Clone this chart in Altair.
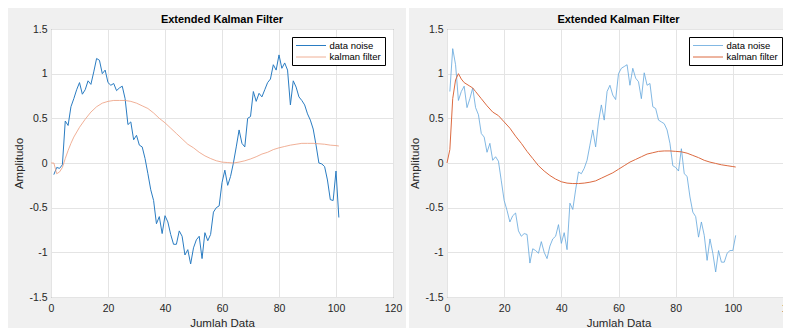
import altair as alt
import pandas as pd

# ---------------- data ----------------
x_ticks = [0, 20, 40, 60, 80, 100, 120]
y_ticks = [-1.5, -1, -0.5, 0, 0.5, 1, 1.5]
series_names = ["data noise", "kalman filter"]
panel_title = "Extended Kalman Filter"
x_title = "Jumlah Data"
y_title = "Amplitudo"

# left panel, noisy samples at x = 1..101
left_noise = [
    -0.13, -0.05, -0.06, -0.02, 0.47, 0.42, 0.63, 0.72, 0.82, 0.90,
    0.77, 0.82, 0.92, 0.88, 1.02, 1.17, 1.15, 1.00, 1.04, 0.90,
    0.87, 0.89, 0.81, 0.84, 0.86, 0.72, 0.43, 0.46, 0.26, 0.31,
    0.20, 0.18, 0.05, -0.12, -0.30, -0.42, -0.68, -0.60, -0.79, -0.59,
    -0.66, -0.80, -0.91, -0.91, -0.76, -0.82, -1.03, -0.97, -1.13, -0.95,
    -0.86, -0.82, -1.07, -0.78, -0.87, -0.80, -0.55, -0.50, -0.48, -0.22,
    -0.08, -0.25, -0.15, 0.00, 0.18, 0.37, 0.22, 0.18, 0.50, 0.52,
    0.80, 0.69, 0.78, 0.74, 0.82, 0.90, 0.94, 1.10, 1.04, 1.21,
    1.06, 1.12, 1.04, 0.65, 0.92, 0.85, 0.74, 0.70, 0.65, 0.55,
    0.48, 0.38, 0.20, 0.00, -0.01, -0.04, -0.19, -0.41, -0.42, -0.09,
    -0.61,
]
left_kalman_x = [0, 1, 2, 3, 4, 5, 6, 7, 8, 10, 12, 14, 16, 18, 20, 22, 24, 26,
                 28, 30, 32, 34, 36, 38, 40, 42, 44, 46, 48, 50, 52, 54, 56, 58,
                 60, 62, 64, 66, 68, 70, 72, 74, 76, 78, 80, 82, 84, 86, 88, 90,
                 92, 94, 96, 98, 100, 101]
left_kalman = [0.0, 0.0, -0.12, -0.10, -0.05, 0.05, 0.14, 0.22, 0.29, 0.40,
               0.49, 0.57, 0.63, 0.67, 0.69, 0.70, 0.70, 0.70, 0.69, 0.67,
               0.64, 0.61, 0.56, 0.50, 0.45, 0.39, 0.33, 0.27, 0.21, 0.17,
               0.12, 0.08, 0.05, 0.025, 0.01, 0.005, 0.0, 0.01, 0.025, 0.045,
               0.07, 0.10, 0.12, 0.15, 0.17, 0.185, 0.20, 0.21, 0.22, 0.22,
               0.22, 0.215, 0.21, 0.20, 0.195, 0.19]

# right panel, noisy samples at x = 1..101
right_noise = [
    0.80, 1.28, 1.10, 0.70, 0.80, 0.86, 0.62, 0.72, 0.84, 0.62,
    0.54, 0.33, 0.29, 0.12, 0.22, 0.03, 0.07, 0.02, -0.20, -0.42,
    -0.53, -0.66, -0.59, -0.56, -0.76, -0.82, -0.79, -0.80, -1.12, -0.96,
    -0.98, -1.01, -0.88, -1.00, -1.07, -0.93, -0.85, -0.82, -0.69, -0.90,
    -0.78, -0.97, -0.45, -0.52, -0.30, -0.10, -0.12, -0.06, 0.03, 0.20,
    0.37, 0.18, 0.46, 0.65, 0.48, 0.80, 0.87, 0.76, 0.71, 1.00,
    1.06, 1.08, 1.10, 0.87, 1.06, 0.95, 0.91, 0.72, 1.01, 0.87,
    0.89, 0.63, 0.61, 0.48, 0.46, 0.44, 0.37, 0.22, -0.03, -0.05,
    -0.09, 0.16, -0.12, -0.15, -0.38, -0.55, -0.60, -0.83, -0.66, -0.81,
    -1.09, -0.85, -1.01, -1.22, -0.98, -1.11, -1.11, -1.01, -0.98, -0.98,
    -0.81,
]
right_kalman_x = [0, 1, 2, 3, 4, 5, 6, 7, 8, 9, 10, 12, 14, 16, 18, 20, 22, 24,
                  26, 28, 30, 32, 34, 36, 38, 40, 42, 44, 46, 48, 50, 52, 54, 56,
                  58, 60, 62, 64, 66, 68, 70, 72, 74, 76, 78, 80, 82, 84, 86, 88,
                  90, 92, 94, 96, 98, 100, 101]
right_kalman = [0.0, 0.15, 0.72, 0.93, 1.00, 0.94, 0.90, 0.88, 0.86, 0.84,
                0.80, 0.72, 0.64, 0.57, 0.53, 0.46, 0.39, 0.30, 0.22, 0.13,
                0.05, -0.03, -0.09, -0.14, -0.18, -0.21, -0.225, -0.23, -0.23, -0.225,
                -0.215, -0.20, -0.17, -0.14, -0.11, -0.07, -0.03, 0.01, 0.04, 0.07,
                0.10, 0.115, 0.13, 0.135, 0.135, 0.13, 0.125, 0.11, 0.085, 0.06,
                0.03, 0.01, -0.005, -0.02, -0.03, -0.04, -0.045]

FONT = "Liberation Sans"
TXT = "#262626"


def frame(noise, kx, kv):
    a = pd.DataFrame({"x": list(range(1, len(noise) + 1)), "y": noise,
                      "series": series_names[0]})
    b = pd.DataFrame({"x": kx, "y": kv, "series": series_names[1]})
    return pd.concat([a, b], ignore_index=True)


def panel(df, colors, widths, w):
    xenc = alt.X("x:Q", scale=alt.Scale(domain=[0, 120], nice=False, zero=False),
                 axis=alt.Axis(values=x_ticks, title=x_title, titleFont=FONT,
                               titleFontSize=11.5, titleFontWeight="normal",
                               titleColor=TXT, titlePadding=4, labelFont=FONT,
                               labelFontSize=10.5, labelColor=TXT, labelPadding=6,
                               tickSize=0, domain=False, grid=True,
                               gridColor="#e4e4e4", labelFlush=False,
                               labelExpr="'' + datum.value"))
    yenc = alt.Y("y:Q", scale=alt.Scale(domain=[-1.5, 1.5], nice=False, zero=False),
                 axis=alt.Axis(values=y_ticks, title=y_title, titleFont=FONT,
                               titleFontSize=11.5, titleFontWeight="normal",
                               titleColor=TXT, titlePadding=4, labelFont=FONT,
                               labelFontSize=10.5, labelColor=TXT, labelPadding=4,
                               tickSize=0, domain=False, grid=True,
                               gridColor="#e4e4e4",
                               labelExpr="'' + datum.value"))
    line = alt.Chart(df).mark_line().encode(
        x=xenc, y=yenc,
        color=alt.Color("series:N",
                        scale=alt.Scale(domain=series_names, range=colors),
                        legend=alt.Legend(title=None, orient="top-right", offset=8,
                                          strokeColor="#000", fillColor="white",
                                          padding=3.5, symbolType="M-1,0L5.667,0",
                                          symbolSize=81, symbolStrokeWidth=1.2,
                                          labelFont=FONT, labelFontSize=9.5,
                                          labelColor="#000", rowPadding=1.5,
                                          labelOffset=24, cornerRadius=0)),
        strokeWidth=alt.StrokeWidth("series:N",
                                    scale=alt.Scale(domain=series_names, range=widths),
                                    legend=None),
    )
    return line.properties(
        width=w, height=268,
        title=alt.Title(panel_title, font=FONT, fontSize=11, fontWeight="bold",
                        color="#000", offset=4, dy=5, anchor="middle", frame="group"))


left = panel(frame(left_noise, left_kalman_x, left_kalman),
             ["#2a7cc2", "#ec9c7c"], [1.0, 0.8], 342)
right = panel(frame(right_noise, right_kalman_x, right_kalman),
              ["#62a6dc", "#dc6a40"], [0.8, 1.0], 343)

# thin white gap between the two figure windows
separator = alt.Chart(pd.DataFrame({"gap": [0]})).mark_rule(
    color="white", strokeWidth=3
).encode(x=alt.value(1.5), y=alt.value(-21), y2=alt.value(299)).properties(
    width=28, height=268,
    view=alt.ViewBackground(fill="transparent", stroke="transparent"))

chart = alt.hconcat(left, separator, right, spacing=13, bounds="flush").resolve_scale(
    color="independent", strokeWidth="independent"
).properties(
    autosize=alt.AutoSizeParams(type="none"),
    padding={"left": 43, "top": 21, "right": 732, "bottom": 296},
).configure(background="#f0f0f0").configure_view(
    stroke="#707070", strokeWidth=1, fill="white")

chart.save("out.html", embed_options={"renderer": "svg", "actions": False})
